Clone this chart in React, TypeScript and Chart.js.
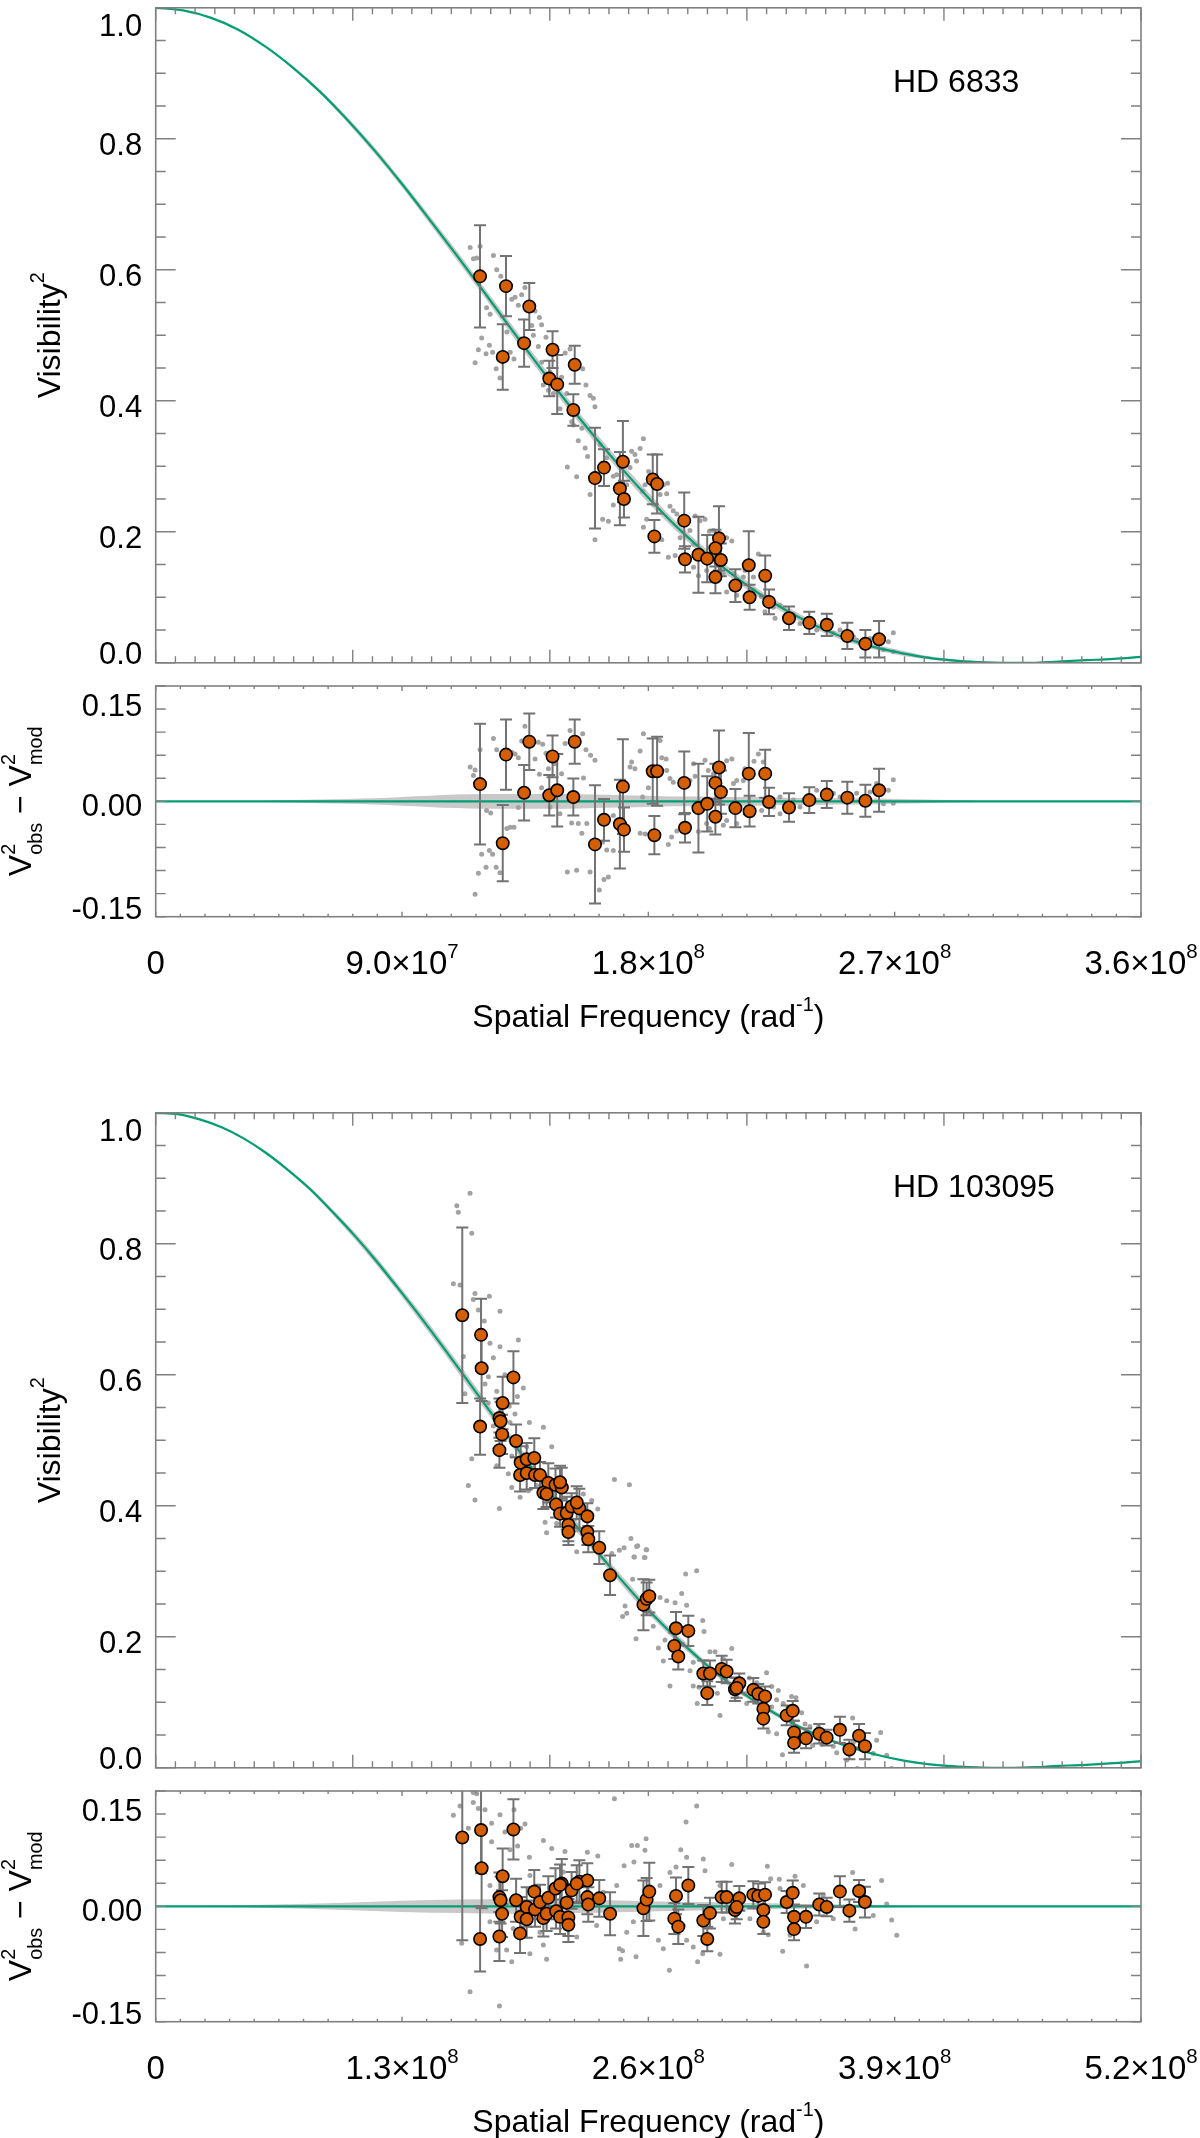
import React, { useEffect, useRef } from "react";
import { Chart, registerables } from "chart.js";
Chart.register(...registerables);

const FONT = '"Liberation Sans", Arial, Helvetica, sans-serif';
const GREEN = "#009e73";
const ORANGE = "#d55e00";
const DOT = "#a2a2a2";
const ERR = "#737373";
const AXIS = "#808080";
const BAND = "rgba(165,165,165,0.6)";

// ================= HD 6833 (spatial frequency in units of 1e7 rad^-1) =================
const hd6833ModelX = [0,1,2,3,4,5,6,7,8,9,10,11,12,13,14,15,16,17,18,19,20,21,22,23,24,25,26,27,28,29,30,31,32,33,34,35,36];
const hd6833ModelV2 = [1.000,0.996,0.985,0.967,0.941,0.909,0.872,0.829,0.782,0.731,0.677,0.622,0.566,0.509,0.453,0.399,0.347,0.298,0.252,0.209,0.171,0.137,0.107,0.081,0.059,0.041,0.027,0.017,0.009,0.004,0.001,0.000,0.000,0.002,0.004,0.006,0.009];
const hd6833ModelBand = [0,0,0,0.001,0.001,0.002,0.003,0.004,0.005,0.005,0.006,0.007,0.007,0.008,0.008,0.008,0.008,0.008,0.008,0.007,0.007,0.007,0.006,0.006,0.005,0.005,0.004,0.004,0.003,0.002,0.002,0.001,0.001,0.001,0.001,0.001,0.001];
const hd6833ResidBand = [0,0,0,0,0.001,0.002,0.003,0.004,0.005,0.007,0.009,0.011,0.012,0.012,0.012,0.012,0.011,0.010,0.009,0.008,0.008,0.007,0.007,0.006,0.006,0.005,0.005,0.004,0.003,0.002,0.001,0,0,0,0,0,0];

const hd6833X = [11.85,12.80,13.65,13.46,12.68,14.50,15.31,14.38,14.67,15.26,16.05,16.38,17.07,16.96,17.11,18.16,18.32,18.22,19.31,19.34,19.83,20.15,20.58,20.45,20.65,20.45,21.18,21.67,21.70,22.27,22.41,23.14,23.88,24.52,25.27,25.93,26.43];
const hd6833V2 = [0.590,0.575,0.544,0.488,0.467,0.478,0.455,0.434,0.425,0.386,0.282,0.298,0.307,0.266,0.250,0.280,0.273,0.193,0.217,0.158,0.165,0.159,0.190,0.175,0.157,0.131,0.118,0.149,0.100,0.133,0.093,0.068,0.061,0.058,0.041,0.029,0.036];
const hd6833V2Err = [0.078,0.046,0.036,0.036,0.050,0.028,0.029,0.027,0.045,0.024,0.077,0.028,0.062,0.056,0.028,0.038,0.045,0.025,0.043,0.020,0.058,0.036,0.049,0.028,0.025,0.025,0.025,0.052,0.019,0.031,0.019,0.018,0.017,0.017,0.020,0.021,0.028];
const hd6833Resid = [0.028,0.076,0.097,0.014,-0.068,0.073,0.097,0.010,0.018,0.007,-0.070,-0.030,0.024,-0.037,-0.046,0.049,0.049,-0.055,0.030,-0.043,-0.011,-0.004,0.055,0.030,0.015,-0.025,-0.011,0.045,-0.016,0.045,-0.001,-0.010,0.002,0.011,0.006,0.001,0.018];
const hd6833ResidErr = [0.098,0.057,0.046,0.045,0.062,0.034,0.036,0.033,0.059,0.030,0.096,0.034,0.077,0.072,0.036,0.053,0.056,0.031,0.051,0.024,0.072,0.045,0.060,0.031,0.035,0.029,0.031,0.066,0.025,0.039,0.023,0.023,0.021,0.022,0.026,0.026,0.035];

const hd6833Dots = [
[11.49,0.634],[11.85,0.636],[11.61,0.617],[11.73,0.618],[12.34,0.622],[11.67,0.458],[11.79,0.478],[11.91,0.496],[12.07,0.472],[12.19,0.485],
[12.31,0.474],[12.46,0.600],[12.61,0.590],[12.44,0.449],[12.58,0.435],[12.95,0.474],[13.09,0.464],[13.01,0.555],[13.13,0.558],[13.37,0.562],
[13.25,0.546],[13.49,0.573],[13.86,0.537],[14.02,0.527],[14.10,0.516],[13.74,0.515],[13.80,0.500],[13.98,0.483],[14.26,0.497],[14.10,0.459],
[14.41,0.444],[14.35,0.416],[14.53,0.411],[14.83,0.436],[14.96,0.473],[15.14,0.479],[15.60,0.449],[15.72,0.424],[15.87,0.408],[15.99,0.404],
[16.05,0.391],[15.02,0.411],[15.20,0.368],[15.44,0.339],[15.57,0.358],[15.69,0.328],[15.78,0.315],[15.04,0.299],[15.38,0.284],[15.87,0.257],
[16.05,0.188],[16.33,0.219],[16.54,0.216],[16.72,0.285],[16.84,0.287],[16.72,0.241],[17.39,0.323],[17.51,0.318],[17.70,0.327],[17.82,0.342],
[17.33,0.298],[17.57,0.308],[17.79,0.262],[17.88,0.272],[18.01,0.292],[18.43,0.257],[18.55,0.272],[18.67,0.258],[18.70,0.274],[18.79,0.239],
[18.91,0.232],[17.82,0.207],[17.94,0.219],[18.49,0.188],[18.73,0.161],[18.98,0.164],[19.04,0.227],[19.18,0.217],[19.52,0.202],[19.71,0.224],
[19.89,0.217],[20.07,0.219],[19.65,0.146],[19.83,0.133],[20.23,0.201],[20.38,0.202],[20.86,0.191],[21.05,0.186],[20.13,0.141],[20.74,0.136],
[20.86,0.108],[21.05,0.113],[21.23,0.103],[21.47,0.131],[21.53,0.141],[21.84,0.131],[22.02,0.166],[22.14,0.101],[22.26,0.078],[22.63,0.068],
[22.81,0.088],[23.30,0.074],[23.54,0.060],[24.15,0.050],[24.33,0.055],[24.76,0.045],[25.00,0.050],[25.61,0.035],[26.10,0.037],[26.34,0.030],
[26.77,0.032],[26.95,0.046],[26.95,0.017],[26.59,0.020],[12.22,0.532],[12.09,0.542],[12.83,0.505],[13.31,0.494],[14.16,0.424],[14.77,0.388],
[15.26,0.363],[16.24,0.333],[16.48,0.313],[17.21,0.272],[18.18,0.242],[19.16,0.191],[19.65,0.181],[20.38,0.161],[21.11,0.136],[21.84,0.111],
[22.57,0.085],[23.91,0.055],[25.49,0.040]
];

const hd6833ResDots = [
[11.49,0.056],[11.67,0.051],[11.61,0.042],[11.85,0.084],[11.67,-0.151],[11.79,-0.117],[11.91,-0.086],[12.07,-0.107],[12.19,-0.080],[12.31,-0.086],
[12.09,-0.015],[12.24,-0.019],[12.34,0.102],[12.46,0.084],[12.44,-0.107],[12.58,-0.116],[12.83,-0.044],[12.95,-0.042],[13.09,-0.042],[13.01,0.080],
[13.13,0.077],[13.25,0.071],[13.49,0.122],[13.37,0.098],[13.25,-0.010],[13.86,0.069],[13.74,0.096],[13.98,0.096],[14.14,0.093],[14.02,0.044],
[14.10,0.022],[14.26,0.078],[14.35,0.053],[14.41,-0.009],[14.57,0.061],[14.83,0.045],[14.96,0.094],[15.14,0.115],[15.60,0.110],[15.72,0.084],
[15.89,0.075],[16.05,0.067],[15.63,0.038],[14.77,-0.020],[15.20,-0.035],[15.44,-0.036],[15.75,-0.036],[15.57,-0.052],[15.04,-0.115],[15.38,-0.112],
[15.87,-0.115],[16.21,-0.144],[16.38,-0.127],[16.54,-0.123],[16.48,-0.079],[16.72,-0.080],[16.33,-0.066],[16.72,-0.023],[16.84,-0.031],[17.33,0.056],
[17.51,0.053],[17.70,0.082],[17.82,0.110],[17.39,0.064],[17.79,0.007],[18.00,0.022],[17.70,-0.052],[17.88,-0.053],[18.43,0.099],[18.49,0.071],
[18.67,0.050],[18.65,0.069],[18.79,0.037],[18.91,0.031],[18.73,-0.070],[18.85,-0.058],[19.04,-0.048],[19.52,0.034],[19.71,0.041],[19.65,0.061],
[20.07,0.067],[20.19,0.050],[19.83,-0.049],[20.13,-0.036],[20.23,-0.044],[20.74,-0.039],[20.86,-0.031],[20.38,0.045],[20.86,0.066],[21.05,0.069],
[21.11,0.029],[21.23,0.034],[21.47,0.034],[21.53,0.053],[21.86,0.065],[22.02,0.077],[22.20,0.064],[22.14,-0.015],[22.57,-0.009],[22.81,0.007],
[23.30,0.002],[23.54,-0.009],[24.15,0.018],[24.76,0.013],[25.00,0.007],[25.61,0.013],[26.10,0.015],[26.34,0.029],[26.77,0.018],[26.95,0.035],
[26.95,-0.003],[26.59,-0.004],[22.81,-0.020],[21.23,-0.036]
];

const hd6833TickLabels = [
  { v: 0, main: "0" },
  { v: 9, main: "9.0×10", sup: "7" },
  { v: 18, main: "1.8×10", sup: "8" },
  { v: 27, main: "2.7×10", sup: "8" },
  { v: 36, main: "3.6×10", sup: "8" },
];

// ================= HD 103095 (spatial frequency in units of 1e8 rad^-1) =================
const hd103095ModelX = [0,0.116,0.232,0.348,0.464,0.581,0.697,0.813,0.929,1.045,1.161,1.277,1.393,1.510,1.626,1.742,1.858,1.974,2.090,2.206,2.322,2.439,2.555,2.671,2.787,2.903,3.019,3.135,3.251,3.367,3.484,3.600,3.716,3.832,3.948,4.064,4.180,4.296,4.413,4.529,4.645,4.761,4.877,4.993,5.109,5.2];
const hd103095ModelV2 = [1.000,0.998,0.990,0.978,0.961,0.939,0.913,0.884,0.850,0.814,0.775,0.733,0.690,0.645,0.599,0.553,0.507,0.462,0.417,0.374,0.333,0.293,0.255,0.220,0.188,0.158,0.131,0.107,0.086,0.067,0.051,0.038,0.027,0.018,0.011,0.006,0.003,0.001,0.000,0.000,0.001,0.003,0.004,0.006,0.008,0.010];
const hd103095ModelBand = [0,0,0,0,0.001,0.002,0.002,0.003,0.004,0.005,0.006,0.006,0.007,0.007,0.008,0.008,0.008,0.008,0.008,0.008,0.007,0.007,0.007,0.006,0.006,0.005,0.005,0.004,0.004,0.003,0.003,0.002,0.002,0.001,0.001,0.001,0.001,0.001,0.001,0.001,0.001,0.001,0.001,0.001,0.001,0.001];
const hd103095ResidBandX = [0,0.5,1.0,1.3,1.6,1.9,2.2,2.5,2.8,3.1,3.4,3.7,4.0,4.3,4.6,5.2];
const hd103095ResidBand = [0,0.002,0.006,0.009,0.011,0.012,0.011,0.009,0.007,0.006,0.004,0.003,0.001,0,0,0];

const hd103095X = [1.618,1.717,1.720,1.712,1.888,1.831,1.814,1.820,1.828,1.814,1.902,1.926,1.958,1.998,1.923,1.958,2.002,2.028,2.072,2.110,2.143,2.046,2.063,2.113,2.134,2.169,2.195,2.236,2.278,2.178,2.178,2.278,2.283,2.341,2.134,2.222,2.398,2.574,2.591,2.605,2.746,2.811,2.737,2.758,2.890,2.925,2.911,2.987,3.013,3.057,3.080,3.066,3.154,3.180,3.216,3.207,3.207,3.330,3.362,3.369,3.369,3.432,3.502,3.541,3.611,3.661,3.712,3.743];
const hd103095V2 = [0.691,0.661,0.610,0.521,0.596,0.557,0.534,0.529,0.509,0.485,0.499,0.466,0.471,0.473,0.447,0.450,0.447,0.447,0.435,0.432,0.428,0.420,0.418,0.402,0.388,0.389,0.399,0.396,0.384,0.371,0.360,0.360,0.349,0.336,0.436,0.405,0.294,0.249,0.258,0.262,0.213,0.209,0.186,0.170,0.144,0.144,0.114,0.151,0.147,0.120,0.129,0.122,0.119,0.113,0.109,0.090,0.075,0.080,0.087,0.054,0.038,0.045,0.052,0.046,0.058,0.028,0.049,0.033];
const hd103095V2Err = [0.134,0.055,0.050,0.043,0.040,0.040,0.030,0.030,0.030,0.027,0.025,0.025,0.025,0.030,0.025,0.025,0.020,0.020,0.030,0.025,0.030,0.025,0.020,0.020,0.020,0.025,0.020,0.030,0.020,0.025,0.020,0.020,0.020,0.025,0.025,0.025,0.030,0.039,0.025,0.025,0.025,0.023,0.020,0.020,0.020,0.020,0.018,0.020,0.018,0.018,0.015,0.015,0.018,0.015,0.015,0.015,0.015,0.015,0.015,0.018,0.015,0.015,0.015,0.012,0.020,0.015,0.018,0.020];
const hd103095Resid = [0.112,0.124,0.062,-0.053,0.125,0.049,0.015,0.010,-0.012,-0.049,0.010,-0.017,-0.001,0.024,-0.044,-0.021,-0.005,0.007,0.014,0.029,0.037,-0.019,-0.012,-0.008,-0.017,0.006,0.026,0.040,0.042,-0.018,-0.030,0.015,0.003,0.013,0.035,0.037,-0.012,-0.003,0.011,0.024,0.017,0.034,-0.020,-0.033,-0.023,-0.011,-0.053,0.015,0.015,-0.006,0.013,-0.001,0.019,0.017,0.019,-0.006,-0.025,0.007,0.022,-0.017,-0.037,-0.017,0.003,-0.001,0.024,-0.007,0.025,0.007];
const hd103095ResidErr = [0.167,0.070,0.065,0.053,0.049,0.045,0.040,0.038,0.038,0.040,0.035,0.032,0.032,0.035,0.032,0.030,0.028,0.028,0.035,0.033,0.040,0.030,0.028,0.028,0.028,0.030,0.030,0.035,0.028,0.030,0.028,0.028,0.028,0.030,0.033,0.030,0.035,0.045,0.035,0.047,0.030,0.030,0.025,0.028,0.025,0.025,0.020,0.025,0.025,0.022,0.020,0.020,0.022,0.020,0.020,0.020,0.020,0.018,0.020,0.020,0.018,0.018,0.018,0.015,0.025,0.018,0.018,0.025];

const hd103095Dots = [
[1.659,0.877],[1.589,0.858],[1.597,0.848],[1.668,0.816],[1.571,0.739],[1.606,0.737],[1.685,0.724],[1.676,0.715],[1.761,0.720],[1.703,0.699],
[1.734,0.682],[1.817,0.697],[1.764,0.648],[1.817,0.643],[1.914,0.653],[1.624,0.628],[1.782,0.626],[1.756,0.597],[1.738,0.586],[1.800,0.575],
[1.843,0.600],[1.940,0.580],[1.909,0.567],[1.632,0.571],[1.755,0.557],[1.866,0.552],[1.896,0.540],[1.782,0.522],[1.870,0.527],[1.972,0.527],
[2.046,0.520],[2.090,0.490],[1.668,0.472],[1.879,0.476],[1.800,0.461],[1.861,0.449],[1.958,0.490],[1.967,0.423],[1.879,0.428],[1.650,0.431],
[1.685,0.409],[1.814,0.396],[2.055,0.375],[2.063,0.359],[2.169,0.428],[2.421,0.440],[2.500,0.432],[2.333,0.395],[2.222,0.330],[2.407,0.327],
[2.447,0.332],[2.472,0.336],[2.508,0.350],[2.538,0.338],[2.591,0.333],[2.524,0.322],[2.582,0.321],[2.301,0.408],[2.257,0.418],[2.010,0.431],
[1.923,0.413],[2.116,0.373],[2.222,0.363],[2.544,0.339],[2.526,0.322],[2.579,0.321],[2.588,0.333],[2.797,0.296],[2.855,0.301],[2.517,0.288],
[2.776,0.266],[2.802,0.248],[2.662,0.260],[2.697,0.255],[2.741,0.252],[2.477,0.247],[2.486,0.236],[2.464,0.231],[2.626,0.216],[2.535,0.197],
[2.653,0.183],[2.688,0.195],[2.679,0.163],[2.714,0.125],[2.820,0.148],[2.887,0.225],[2.894,0.208],[2.925,0.177],[2.952,0.177],[2.837,0.161],
[2.867,0.123],[2.837,0.125],[2.858,0.098],[2.978,0.080],[3.040,0.182],[2.964,0.114],[3.066,0.108],[3.110,0.113],[3.119,0.098],[3.133,0.137],
[3.224,0.145],[3.251,0.124],[3.286,0.118],[3.277,0.104],[3.312,0.098],[3.251,0.093],[3.233,0.055],[3.277,0.052],[3.308,0.020],[3.356,0.109],
[3.379,0.107],[3.409,0.084],[3.427,0.067],[3.453,0.063],[3.400,0.045],[3.467,0.034],[3.515,0.036],[3.576,0.033],[3.594,0.023],[3.678,0.076],
[3.682,0.039],[3.703,-0.001],[3.787,0.022],[3.826,0.054],[3.805,0.042],[3.858,0.019],[3.884,-0.001],[3.647,0.012],[3.550,0.047],[3.497,0.062],
[3.172,0.130],[3.031,0.151],[2.996,0.166]
];

const hd103095ResDots = [
[1.571,0.148],[1.606,0.163],[1.676,0.185],[1.694,0.183],[1.676,0.169],[1.703,0.159],[1.738,0.157],[1.650,0.127],[1.773,0.135],[1.817,0.149],
[1.891,0.157],[1.773,0.105],[1.843,0.121],[1.870,0.092],[1.910,0.098],[1.949,0.134],[1.926,0.127],[1.972,0.080],[2.046,0.107],[2.090,0.094],
[2.160,0.089],[2.278,0.088],[2.333,0.082],[2.421,0.175],[2.472,0.066],[2.512,0.099],[2.542,0.099],[2.588,0.110],[2.524,0.072],[2.582,0.091],
[2.714,0.055],[2.746,0.064],[2.771,0.092],[2.799,0.137],[2.802,0.080],[2.855,0.163],[2.890,0.077],[2.899,0.058],[3.040,0.068],[3.228,0.065],
[3.245,0.045],[3.291,0.044],[3.374,0.049],[3.678,0.055],[3.831,0.042],[3.858,0.004],[3.884,-0.022],[3.911,-0.047],[1.615,-0.060],[1.659,-0.139],
[1.814,-0.162],[1.879,-0.090],[1.852,-0.071],[1.799,-0.071],[2.063,-0.086],[2.046,-0.063],[1.975,-0.077],[2.454,-0.086],[2.447,-0.069],[2.464,-0.072],
[2.535,-0.082],[2.486,-0.042],[2.653,-0.055],[2.679,-0.069],[2.711,-0.104],[2.802,-0.055],[2.837,-0.066],[2.860,-0.090],[2.887,-0.077],[2.978,-0.078],
[3.309,-0.073],[3.435,-0.097],[3.348,-0.047],[3.691,-0.037],[3.576,-0.020],[3.233,-0.046],[3.136,-0.020],[2.996,-0.020],[3.418,0.034],[3.523,0.018],
[3.295,0.029],[3.136,0.023],[2.978,0.034],[2.661,0.034],[2.433,0.034],[2.362,0.023],[2.151,0.056],[1.975,0.050],[1.764,0.034],[1.764,-0.025],
[1.887,-0.036],[2.028,-0.042],[2.222,-0.050],[2.327,-0.031],[2.521,-0.025],[2.785,-0.031],[3.207,-0.042],[3.488,-0.025],[3.787,-0.015]
];

const hd103095TickLabels = [
  { v: 0, main: "0" },
  { v: 1.3, main: "1.3×10", sup: "8" },
  { v: 2.6, main: "2.6×10", sup: "8" },
  { v: 3.9, main: "3.9×10", sup: "8" },
  { v: 5.2, main: "5.2×10", sup: "8" },
];

const v2TickLabels = [0, 0.2, 0.4, 0.6, 0.8, 1.0];
const residTickLabels = [-0.15, 0, 0.15];
const residLabelShift = [14, 3, -4]; // vertical text nudges of the three residual labels

// ================= layout constants =================
const W = 1200;
const PLOT_L = 155.7;
const PLOT_R = 1141;
const FIG_OFFSETS = [0, 1104.8];
const YTICK_SIZE = 31;
const XTICK_SIZE = 33;
const TITLE_SIZE = 32;

type Seg = { t: string; k?: number; dy?: number; hold?: boolean };

function richWidth(ctx: CanvasRenderingContext2D, segs: Seg[], size: number) {
  let w = 0;
  for (const s of segs) {
    ctx.font = `${size * (s.k ?? 1)}px ${FONT}`;
    if (!s.hold) w += ctx.measureText(s.t).width;
  }
  return w;
}

function drawRich(ctx: CanvasRenderingContext2D, segs: Seg[], x: number, y: number, size: number, align: string, rot = 0) {
  ctx.save();
  ctx.translate(x, y);
  if (rot) ctx.rotate(rot);
  const w = richWidth(ctx, segs, size);
  let cx = align === "center" ? -w / 2 : align === "right" ? -w : 0;
  ctx.textAlign = "left";
  ctx.textBaseline = "alphabetic";
  ctx.fillStyle = "#000";
  for (const s of segs) {
    ctx.font = `${size * (s.k ?? 1)}px ${FONT}`;
    ctx.fillText(s.t, cx, (s.dy ?? 0) * size);
    if (!s.hold) cx += ctx.measureText(s.t).width;
  }
  ctx.restore();
}

const SUP = 0.62;

interface PanelCfg {
  top: number;
  height: number;
  padTop: number;
  padBottom: number;
  xMax: number;
  yMin: number;
  yMax: number;
  xMinor: number;
  xPer: number;
  xMajLen: number;
  xMinLen: number;
  yMinor: number;
  yMajor: number;
  yMajLen: number;
  yMinLen: number;
  yLabels: { v: number; t: string; dy: number }[];
  clampLabels: boolean;
  yTitle: Seg[];
  yTitleX: number;
  xLabels?: { v: number; main: string; sup?: string }[];
  xLabelBase?: number;
  xTitleBase?: number;
  tag?: string;
  tagX?: number;
  tagBase?: number;
  bandX: number[];
  bandMid: number[] | null;
  bandW: number[];
  dots: number[][];
  modelX: number[];
  modelY: number[];
  obsX: number[];
  obsY: number[];
  obsE: number[];
}

function decoPlugin(cfg: PanelCfg) {
  return {
    id: "deco",
    beforeDatasetDraw(chart: any, args: any) {
      if (args.index !== 4) return;
      const { ctx, chartArea: a, scales } = chart;
      const x = scales.x, y = scales.y;
      ctx.save();
      ctx.beginPath();
      ctx.rect(a.left, a.top, a.right - a.left, a.bottom - a.top);
      ctx.clip();
      ctx.strokeStyle = ERR;
      ctx.lineWidth = 2;
      cfg.obsX.forEach((vx, i) => {
        const px = x.getPixelForValue(vx);
        const y1 = y.getPixelForValue(cfg.obsY[i] + cfg.obsE[i]);
        const y2 = y.getPixelForValue(cfg.obsY[i] - cfg.obsE[i]);
        ctx.beginPath();
        ctx.moveTo(px, y1);
        ctx.lineTo(px, y2);
        ctx.moveTo(px - 6, y1);
        ctx.lineTo(px + 6, y1);
        ctx.moveTo(px - 6, y2);
        ctx.lineTo(px + 6, y2);
        ctx.stroke();
      });
      ctx.restore();
    },
    afterDatasetsDraw(chart: any) {
      const { ctx, chartArea: a, scales } = chart;
      const x = scales.x, y = scales.y;
      ctx.save();
      ctx.strokeStyle = AXIS;
      ctx.lineWidth = 1.4;
      const nx = Math.round(cfg.xMax / cfg.xMinor);
      for (let i = 0; i <= nx; i++) {
        const px = x.getPixelForValue(i * cfg.xMinor);
        const len = i % cfg.xPer === 0 ? cfg.xMajLen : cfg.xMinLen;
        ctx.beginPath();
        ctx.moveTo(px, a.bottom);
        ctx.lineTo(px, a.bottom - len);
        ctx.moveTo(px, a.top);
        ctx.lineTo(px, a.top + len);
        ctx.stroke();
      }
      const ny = Math.round((cfg.yMax - cfg.yMin) / cfg.yMinor);
      for (let i = 0; i <= ny; i++) {
        const v = cfg.yMin + i * cfg.yMinor;
        const r = v / cfg.yMajor;
        const major = Math.abs(r - Math.round(r)) < 1e-6;
        const len = major ? cfg.yMajLen : cfg.yMinLen;
        const py = y.getPixelForValue(v);
        ctx.beginPath();
        ctx.moveTo(a.left, py);
        ctx.lineTo(a.left + len, py);
        ctx.moveTo(a.right, py);
        ctx.lineTo(a.right - len, py);
        ctx.stroke();
      }
      ctx.lineWidth = 1.6;
      ctx.strokeRect(a.left, a.top, a.right - a.left, a.bottom - a.top);
      ctx.restore();
    },
    afterDraw(chart: any) {
      const { ctx, chartArea: a, scales } = chart;
      const x = scales.x, y = scales.y;
      for (const l of cfg.yLabels) {
        let py = y.getPixelForValue(l.v) + l.dy;
        if (cfg.clampLabels) py = Math.min(Math.max(py, a.top + 17), a.bottom - 10);
        drawRich(ctx, [{ t: l.t }], a.left - 13.5, py + 0.36 * YTICK_SIZE, YTICK_SIZE, "right");
      }
      drawRich(ctx, cfg.yTitle, cfg.yTitleX, (a.top + a.bottom) / 2, TITLE_SIZE, "center", -Math.PI / 2);
      if (cfg.xLabels && cfg.xLabelBase !== undefined) {
        for (const l of cfg.xLabels) {
          const segs: Seg[] = [{ t: l.main }];
          if (l.sup) segs.push({ t: l.sup, k: SUP, dy: -0.5 });
          drawRich(ctx, segs, x.getPixelForValue(l.v), cfg.xLabelBase, XTICK_SIZE, "center");
        }
      }
      if (cfg.xTitleBase !== undefined) {
        drawRich(
          ctx,
          [{ t: "Spatial Frequency (rad" }, { t: "-1", k: SUP, dy: -0.5 }, { t: ")" }],
          (a.left + a.right) / 2,
          cfg.xTitleBase,
          TITLE_SIZE,
          "center"
        );
      }
      if (cfg.tag && cfg.tagX !== undefined && cfg.tagBase !== undefined) {
        drawRich(ctx, [{ t: cfg.tag }], cfg.tagX, cfg.tagBase, 32, "left");
      }
    },
  };
}

function makeConfig(cfg: PanelCfg): any {
  const mid = (i: number) => (cfg.bandMid ? cfg.bandMid[i] : 0);
  const bandHi = cfg.bandX.map((bx, i) => ({ x: bx, y: mid(i) + cfg.bandW[i] }));
  const bandLo = cfg.bandX.map((bx, i) => ({ x: bx, y: mid(i) - cfg.bandW[i] }));
  const dots = cfg.dots.map((d) => ({ x: d[0], y: d[1] }));
  const model = cfg.modelX.map((mx, i) => ({ x: mx, y: cfg.modelY[i] }));
  const obs = cfg.obsX.map((ox, i) => ({ x: ox, y: cfg.obsY[i] }));
  return {
    type: "scatter",
    data: {
      datasets: [
        { type: "line", data: bandHi, borderColor: "rgba(0,0,0,0)", borderWidth: 0, pointRadius: 0, fill: false, cubicInterpolationMode: "monotone", order: 6, clip: 0 },
        { type: "line", data: bandLo, borderColor: "rgba(0,0,0,0)", borderWidth: 0, pointRadius: 0, fill: "-1", backgroundColor: BAND, cubicInterpolationMode: "monotone", order: 5, clip: 0 },
        { type: "scatter", data: dots, pointRadius: 2.5, backgroundColor: DOT, borderWidth: 0, order: 4, clip: 0 },
        { type: "line", data: model, borderColor: GREEN, borderWidth: 2.2, pointRadius: 0, fill: false, cubicInterpolationMode: "monotone", order: 3, clip: 0 },
        { type: "scatter", data: obs, pointRadius: 6.2, backgroundColor: ORANGE, borderColor: "#000", borderWidth: 1.6, order: 1, clip: 0 },
      ],
    },
    options: {
      responsive: false,
      animation: false,
      events: [],
      layout: { padding: { left: PLOT_L, right: W - PLOT_R, top: cfg.padTop, bottom: cfg.padBottom } },
      scales: {
        x: { type: "linear", min: 0, max: cfg.xMax, display: false },
        y: { type: "linear", min: cfg.yMin, max: cfg.yMax, display: false },
      },
      plugins: { legend: { display: false }, tooltip: { enabled: false } },
    },
    plugins: [decoPlugin(cfg)],
  };
}

const V2_TITLE: Seg[] = [{ t: "Visibility" }, { t: "2", k: SUP, dy: -0.5 }];
const RES_TITLE: Seg[] = [
  { t: "V" }, { t: "2", k: SUP, dy: -0.5, hold: true }, { t: "obs", k: SUP, dy: 0.33 },
  { t: " − " },
  { t: "V" }, { t: "2", k: SUP, dy: -0.5, hold: true }, { t: "mod", k: SUP, dy: 0.33 },
];

function topPanel(off: number, xMax: number, tag: string, modelX: number[], modelY: number[], band: number[], dots: number[][], ox: number[], oy: number[], oe: number[]): PanelCfg {
  return {
    top: off, height: 700, padTop: 3, padBottom: 700 - 662.8,
    xMax, yMin: 0, yMax: 1,
    xMinor: xMax / 50, xPer: 10, xMajLen: 13, xMinLen: 6.5,
    yMinor: 0.05, yMajor: 0.2, yMajLen: 20, yMinLen: 10,
    yLabels: v2TickLabels.map((v) => ({ v, t: v.toFixed(1), dy: 5 })),
    clampLabels: true,
    yTitle: V2_TITLE, yTitleX: 60,
    tag, tagX: 893, tagBase: 92,
    bandX: modelX, bandMid: modelY, bandW: band,
    dots, modelX, modelY, obsX: ox, obsY: oy, obsE: oe,
  };
}

function residPanel(off: number, xMax: number, labels: any[], bandX: number[], band: number[], dots: number[][], ox: number[], oy: number[], oe: number[]): PanelCfg {
  const top = off + 672;
  return {
    top, height: 433, padTop: 686 - 672, padBottom: 433 - (916.7 - 672),
    xMax, yMin: -0.1875, yMax: 0.1875,
    xMinor: xMax / 40, xPer: 10, xMajLen: 5, xMinLen: 3,
    yMinor: 0.0375, yMajor: 0.15, yMajLen: 10, yMinLen: 10,
    yLabels: residTickLabels.map((v, i) => ({ v, t: v.toFixed(2), dy: residLabelShift[i] })),
    clampLabels: false,
    yTitle: RES_TITLE, yTitleX: 31,
    xLabels: labels, xLabelBase: 974 - 672, xTitleBase: 1027 - 672,
    bandX, bandMid: null, bandW: band,
    dots, modelX: [0, xMax], modelY: [0, 0], obsX: ox, obsY: oy, obsE: oe,
  };
}

const PANELS: PanelCfg[] = [
  topPanel(FIG_OFFSETS[0], 36, "HD 6833", hd6833ModelX, hd6833ModelV2, hd6833ModelBand, hd6833Dots, hd6833X, hd6833V2, hd6833V2Err),
  residPanel(FIG_OFFSETS[0], 36, hd6833TickLabels, hd6833ModelX, hd6833ResidBand, hd6833ResDots, hd6833X, hd6833Resid, hd6833ResidErr),
  topPanel(FIG_OFFSETS[1], 5.2, "HD 103095", hd103095ModelX, hd103095ModelV2, hd103095ModelBand, hd103095Dots, hd103095X, hd103095V2, hd103095V2Err),
  residPanel(FIG_OFFSETS[1], 5.2, hd103095TickLabels, hd103095ResidBandX, hd103095ResidBand, hd103095ResDots, hd103095X, hd103095Resid, hd103095ResidErr),
];

function Panel({ cfg }: { cfg: PanelCfg }) {
  const ref = useRef<HTMLCanvasElement | null>(null);
  useEffect(() => {
    if (!ref.current) return;
    const chart = new Chart(ref.current, makeConfig(cfg));
    return () => chart.destroy();
  }, [cfg]);
  return (
    <canvas
      ref={ref}
      width={W}
      height={cfg.height}
      style={{ position: "absolute", left: 0, top: cfg.top, width: W, height: cfg.height }}
    />
  );
}

export default function App() {
  return (
    <div style={{ position: "absolute", left: 0, top: 0, width: W, height: 2138, overflow: "hidden", background: "#fff" }}>
      {PANELS.map((p, i) => (
        <Panel key={i} cfg={p} />
      ))}
    </div>
  );
}
